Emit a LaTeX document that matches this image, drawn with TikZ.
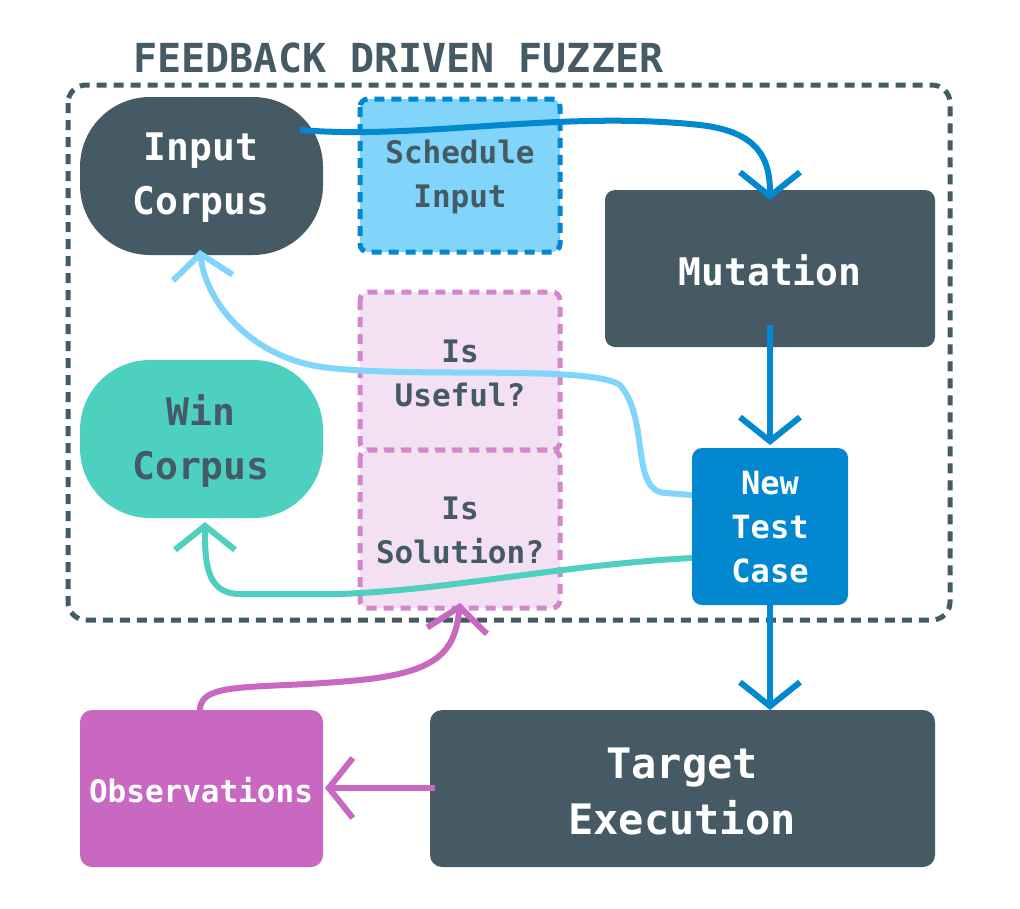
\documentclass[tikz,border=0pt]{standalone}
\usepackage{fontspec}
\setmainfont{DejaVu Sans Mono}
\usetikzlibrary{arrows.meta}
\definecolor{dk}{HTML}{455A64}
\definecolor{bl}{HTML}{0288D1}
\definecolor{lb}{HTML}{81D4FA}
\definecolor{tl}{HTML}{4DD0C0}
\definecolor{mg}{HTML}{C968C0}
\definecolor{pk}{HTML}{F3E0F3}
\begin{document}
\begin{tikzpicture}[x=1pt,y=-1pt,
  box/.style={rounded corners=10pt,font=\bfseries\fontsize{38}{54}\selectfont,align=center,inner sep=0pt},
  sm/.style={font=\bfseries\fontsize{31}{44}\selectfont},
  dsh/.style={dash pattern=on 10pt off 7pt,line width=5pt},
  arr/.style={line width=6pt,-{Straight Barb[length=24pt,width=60pt,line width=6pt]}}]
\useasboundingbox (0,0) rectangle (1020,908);
\draw[dk,dsh,rounded corners=18pt] (68,85) rectangle (950,620);
\node[dk,font=\bfseries\fontsize{40}{50}\selectfont,anchor=west] (t) at (130,58) {FEEDBACK DRIVEN FUZZER};
\path[fill=dk,rounded corners=70pt] (80,97) rectangle (323,255);
\node[box,text=white] (ic) at (201,178) {Input\\Corpus};
\draw[dsh,bl,fill=lb,rounded corners=8pt] (360,99) rectangle (560,252);
\node[box,sm,dk] (si) at (460,177) {Schedule\\Input};
\fill[dk,rounded corners=10pt] (605,190) rectangle (935,347);
\node[box,text=white] (mu) at (770,270) {Mutation};
\draw[dsh,mg!80,fill=pk,rounded corners=8pt] (360,292) rectangle (560,450);
\draw[dsh,mg!80,fill=pk,rounded corners=8pt] (360,450) rectangle (560,608);
\node[box,sm,dk] (iu) at (460,373) {Is\\Useful?};
\node[box,sm,dk] (is) at (460,530) {Is\\Solution?};
\path[fill=tl,rounded corners=70pt] (80,360) rectangle (323,518);
\node[box,dk] (wc) at (201,441) {Win\\Corpus};
\fill[bl,rounded corners=10pt] (692,448) rectangle (848,605);
\node[box,text=white,font=\bfseries\fontsize{32}{44}\selectfont] (nt) at (770,527) {New\\Test\\Case};
\fill[dk,rounded corners=12pt] (430,710) rectangle (935,867);
\node[box,text=white,font=\bfseries\fontsize{42}{56}\selectfont] (te) at (682,791) {Target\\Execution};
\fill[mg,rounded corners=12pt] (80,710) rectangle (323,867);
\node[box,text=white,font=\bfseries\fontsize{31}{40}\selectfont] (ob) at (201,790) {Observations};
\coordinate (a1) at (300,130);
\coordinate (a2) at (770,200);
\draw[arr,bl] (a1) .. controls (420,140) and (560,110) .. (700,125) .. controls (760,132) and (770,160) .. (a2);
\draw[arr,bl] (770,325) -- (770,445);
\draw[arr,bl] (770,605) -- (770,710);
\draw[arr,lb] (692,495) -- (665,493) .. controls (630,490) and (650,420) .. (620,385) .. controls (590,365) and (420,378) .. (330,368) .. controls (250,360) and (205,300) .. (200,250);
\draw[arr,tl] (692,558) .. controls (560,565) and (450,590) .. (340,594) -- (240,594) .. controls (205,594) and (205,560) .. (205,522);
\draw[arr,mg] (435,788) -- (325,788);
\draw[arr,mg] (200,710) .. controls (200,680) and (260,690) .. (360,680) .. controls (440,672) and (455,650) .. (460,603);
\end{tikzpicture}
\end{document}
